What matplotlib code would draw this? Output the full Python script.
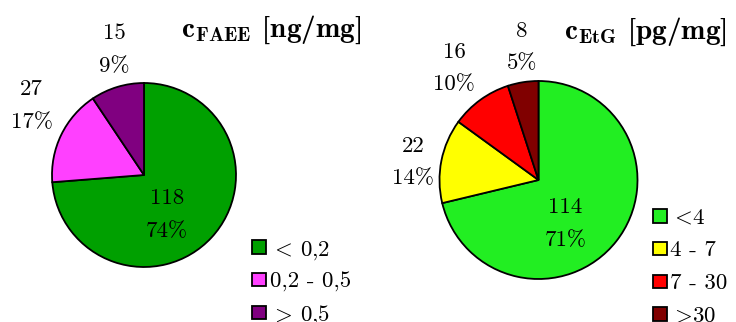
import matplotlib.pyplot as plt
from matplotlib.patches import Rectangle

plt.rcParams["font.family"] = "cmr10"
plt.rcParams["mathtext.fontset"] = "cm"

W, H = 736, 322

# FAEE (ng/mg)
faee_counts = [118, 27, 15]
faee_labels = [r"$<\!$ 0,2", "0,2 - 0,5", r"$>\!$ 0,5"]
faee_colors = ["#00a000", "#ff40ff", "#800080"]

# EtG (pg/mg)
etg_counts = [114, 22, 16, 8]
etg_labels = [r"$<\!$4", "4 - 7", "7 - 30", r"$>\!$30"]
etg_colors = ["#22ee22", "#ffff00", "#ff0000", "#800000"]

# label offsets in units of the pie radius
faee_lab_pos = [(0.25, -0.43), (-1.22, 0.75), (-0.32, 1.36)]
etg_lab_pos = [(0.27, -0.44), (-1.27, 0.18), (-0.85, 1.13), (-0.17, 1.34)]

FS = 16.5
PITCH = 32.7   # legend row spacing, px
BOX = 13.5     # legend swatch size, px

fig = plt.figure(figsize=(W / 100, H / 100), dpi=100)
ax = fig.add_axes([0, 0, 1, 1])


def pie(counts, colors, labels, center, r, lab_pos, leg_x, leg_y, title, title_xy):
    ax.pie(counts, colors=colors, startangle=90, counterclock=False,
           center=center, radius=r, frame=True,
           wedgeprops=dict(edgecolor="black", linewidth=1.3))
    total = sum(counts)
    for n, (dx, dy) in zip(counts, lab_pos):
        pct = round(100 * n / total)
        ax.text(center[0] + dx * r, center[1] + dy * r, f"{n}\n{pct}%",
                ha="center", va="center", fontsize=FS, linespacing=1.85)
    # legend: swatch + label per row
    for i, (lab, col) in enumerate(zip(labels, colors)):
        y = leg_y - i * PITCH
        ax.add_patch(Rectangle((leg_x, y - BOX / 2), BOX, BOX, facecolor=col,
                               edgecolor="black", lw=1.3))
        ax.text(leg_x + BOX + 4, y, lab, ha="left", va="center_baseline",
                fontsize=FS)
    ax.text(*title_xy, title, ha="right", va="center", fontsize=21, family="cmb10")


pie(faee_counts, faee_colors, faee_labels, (144, H - 175), 92, faee_lab_pos,
    252, H - 247, r"$\mathbf{c}_{\mathbf{FAEE}}$ [ng/mg]", (361, H - 30))
pie(etg_counts, etg_colors, etg_labels, (538.5, H - 180), 99, etg_lab_pos,
    653, H - 216, r"$\mathbf{c}_{\mathbf{EtG}}$ [pg/mg]", (727, H - 32))

ax.set_xlim(0, W)
ax.set_ylim(0, H)
ax.set_aspect("equal")
ax.axis("off")

fig.savefig("out.png", dpi=100)
